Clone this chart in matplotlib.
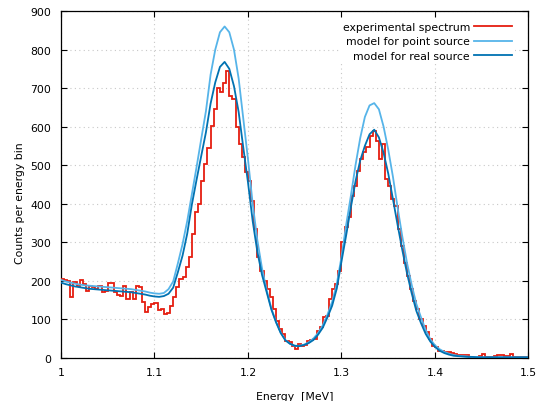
import numpy as np
import matplotlib
matplotlib.use("Agg")
import matplotlib.pyplot as plt

# experimental spectrum, counts per bin (150 bins between 1.0 and 1.5 MeV)
counts = [
    204, 202, 200, 157, 196, 187, 202, 191, 172, 185,
    183, 178, 185, 170, 172, 194, 193, 170, 163, 160,
    185, 152, 170, 152, 185, 183, 145, 118, 131, 140,
    142, 124, 127, 113, 116, 135, 157, 183, 204, 210,
    235, 261, 320, 378, 398, 458, 502, 545, 601, 645,
    700, 690, 712, 745, 680, 672, 600, 555, 521, 482,
    459, 407, 335, 261, 225, 200, 178, 157, 126, 95,
    75, 62, 44, 40, 30, 22, 35, 31, 33, 44,
    46, 48, 70, 79, 105, 109, 152, 178, 191, 226,
    300, 339, 365, 420, 446, 485, 516, 534, 546, 575,
    589, 563, 516, 555, 464, 447, 412, 395, 334, 291,
    247, 213, 178, 148, 126, 100, 83, 66, 48, 31,
    27, 18, 18, 16, 14, 12, 10, 7, 7, 6,
    7, 3, 3, 3, 4, 9, 3, 3, 2, 4,
    7, 6, 5, 5, 9, 2, 2, 3, 2, 2,
]

# model curves sampled every 5 keV from 1.0 to 1.5 MeV
point_src = [
    202, 198, 195, 192, 190, 188, 187, 186, 185, 184,
    183, 182, 181, 180, 179, 178, 176, 174, 172, 169,
    167, 166, 168, 178, 198, 245, 295, 355, 425, 495,
    568, 640, 735, 800, 845, 860, 845, 800, 725, 620,
    515, 400, 305, 232, 175, 128, 93, 65, 46, 36,
    31, 31, 34, 40, 50, 64, 84, 112, 145, 192,
    262, 345, 420, 500, 570, 625, 655, 661, 645, 600,
    540, 470, 390, 315, 247, 190, 140, 105, 72, 48,
    32, 22, 15, 10, 7, 5, 4, 3, 2, 2,
    1, 1, 1, 1, 1, 1, 1, 1, 1, 1, 1,
]
real_src = [
    195, 191, 188, 185, 183, 181, 179, 178, 177, 176,
    175, 174, 173, 172, 171, 170, 168, 166, 164, 161,
    159, 158, 160, 166, 182, 222, 265, 322, 398, 462,
    524, 585, 660, 715, 755, 768, 750, 705, 638, 545,
    455, 355, 275, 215, 170, 125, 92, 64, 45, 36,
    31, 30, 33, 38, 46, 60, 78, 105, 135, 180,
    250, 318, 390, 458, 512, 550, 580, 592, 572, 532,
    478, 412, 345, 280, 220, 168, 122, 90, 62, 42,
    28, 18, 12, 8, 5, 4, 3, 2, 2, 1,
    1, 1, 1, 1, 1, 1, 1, 1, 1, 1, 1,
]

edges = np.linspace(1.0, 1.5, len(counts) + 1)
e_model = np.linspace(1.0, 1.5, len(real_src))

fig = plt.figure(figsize=(5.36, 4.02), dpi=100)
ax = fig.add_axes([0.1138, 0.1077, 0.8722, 0.8623])

ax.stairs(counts, edges, baseline=None, color="#e51e10", lw=1.3,
          label="experimental spectrum", zorder=3)
ax.plot(e_model, point_src, color="#56b4e9", lw=1.3,
        label="model for point source", zorder=4)
ax.plot(e_model, real_src, color="#0072b2", lw=1.3,
        label="model for real source", zorder=5)

ax.set_xlim(1.0, 1.5)
ax.set_ylim(0, 900)
ax.set_xticks([1.0, 1.1, 1.2, 1.3, 1.4, 1.5])
ax.set_xticklabels(["1", "1.1", "1.2", "1.3", "1.4", "1.5"])
ax.set_yticks(range(0, 901, 100))

ax.grid(True, color="#c8c8c8", linestyle=(0, (1, 3)), lw=0.8, zorder=0)
ax.tick_params(direction="in", length=4, width=0.8, top=True, right=True,
               labelsize=7.8, pad=7)
for s in ax.spines.values():
    s.set_linewidth(0.9)

ax.set_xlabel("Energy  [MeV]", fontsize=7.8, labelpad=10)
ax.set_ylabel("Counts per energy bin", fontsize=7.8)
ax.yaxis.set_label_coords(-0.078, 0.45)

leg = ax.legend(loc="upper right", bbox_to_anchor=(0.972, 0.978),
                markerfirst=False, fontsize=7.8, frameon=True,
                handlelength=3.5, handletextpad=0.4, labelspacing=0.42,
                borderpad=0.3, borderaxespad=0)
leg.get_frame().set_facecolor("white")
leg.get_frame().set_edgecolor("none")
leg.get_frame().set_alpha(1)
leg.get_frame().set_boxstyle("square", pad=0)

fig.savefig("out.png", dpi=100)
